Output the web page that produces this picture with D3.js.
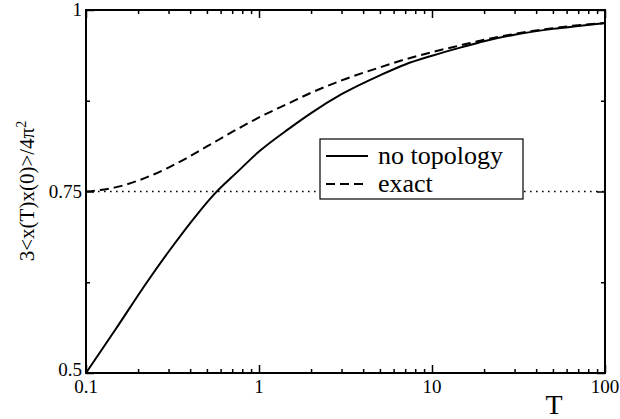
<!DOCTYPE html>
<html><head><meta charset="utf-8">
<script src="https://cdn.jsdelivr.net/npm/d3@7"></script>
<style>body{margin:0;background:#fff}svg{display:block}text{font-family:"Liberation Serif","Times New Roman",serif;fill:#000}</style>
</head><body>
<svg id="c" width="620" height="419"></svg>
<script>
const noTopoT = [0.1,0.15,0.225,0.3,0.444,0.55,0.75,1,1.5,2,3,5,7,10,15,20,30,50,70,100];
const noTopoV = [0.5,0.562,0.625,0.667,0.72,0.746,0.777,0.805,0.837,0.858,0.884,0.91,0.925,0.937,0.949,0.957,0.966,0.974,0.978,0.982];
const exactT = [0.1,0.12,0.15,0.2,0.3,0.5,0.7,1,1.5,2,3,5,7,10,15,20,30,50,70,100];
const exactV = [0.75,0.752,0.756,0.765,0.783,0.812,0.832,0.852,0.872,0.886,0.903,0.921,0.932,0.942,0.952,0.959,0.967,0.975,0.979,0.982];
const refLine = 0.75;
const xMajor = [0.1,1,10,100];
const xLabels = ["0.1","1","10","100"];
const yMajor = [0.5,0.75,1];
const yLabels = ["0.5","0.75","1"];
const yMinor = [0.625,0.875];
const legendNames = ["no topology","exact"];

const FONT = '"Liberation Serif","Times New Roman",serif';
const svg = d3.select("#c");
const L=86,T=10,R=605,B=373;
const x = d3.scaleLog().domain([0.1,100]).range([L,R]);
const y = d3.scaleLinear().domain([0.5,1]).range([B,T]);

const xMinor=[];
[0.1,1,10].forEach(d=>{for(let k=2;k<=9;k++)xMinor.push(d*k);});

// reference dotted line
svg.append("line").attr("x1",x(0.1)).attr("x2",x(100)).attr("y1",y(refLine)).attr("y2",y(refLine))
  .attr("stroke","#000").attr("stroke-width",1.6).attr("stroke-dasharray","1.6,4.4");

const line = d3.line().x(d=>x(d[0])).y(d=>y(d[1])).curve(d3.curveMonotoneX);
svg.append("path").datum(noTopoT.map((t,i)=>[t,noTopoV[i]])).attr("d",line)
  .attr("fill","none").attr("stroke","#000").attr("stroke-width",2);
svg.append("path").datum(exactT.map((t,i)=>[t,exactV[i]])).attr("d",line)
  .attr("fill","none").attr("stroke","#000").attr("stroke-width",2).attr("stroke-dasharray","9,5");

// axes with inward ticks
function ax(gen, tr){ const g=svg.append("g").attr("transform",tr).call(gen); g.select(".domain").remove(); g.selectAll("line").attr("stroke","#000").attr("stroke-width",1.5); g.selectAll("text").remove(); return g;}
ax(d3.axisBottom(x).tickValues(xMajor).tickSize(-8),`translate(0,${B})`);
ax(d3.axisBottom(x).tickValues(xMinor).tickSize(-4),`translate(0,${B})`);
ax(d3.axisTop(x).tickValues(xMajor).tickSize(-8),`translate(0,${T})`);
ax(d3.axisTop(x).tickValues(xMinor).tickSize(-4),`translate(0,${T})`);
ax(d3.axisLeft(y).tickValues(yMajor).tickSize(-8),`translate(${L},0)`);
ax(d3.axisLeft(y).tickValues(yMinor).tickSize(-4),`translate(${L},0)`);
ax(d3.axisRight(y).tickValues(yMajor).tickSize(-8),`translate(${R},0)`);
ax(d3.axisRight(y).tickValues(yMinor).tickSize(-4),`translate(${R},0)`);

svg.append("rect").attr("x",L).attr("y",T).attr("width",R-L).attr("height",B-T)
  .attr("fill","none").attr("stroke","#000").attr("stroke-width",2);

// tick labels
svg.selectAll(".xl").data(xMajor).enter().append("text").attr("font-family",FONT).attr("x",d=>x(d)).attr("y",B+20)
  .attr("text-anchor","middle").attr("font-size",19).text((d,i)=>xLabels[i]);
svg.selectAll(".yl").data(yMajor).enter().append("text").attr("font-family",FONT).attr("x",L-4).attr("y",d=>y(d)+(d===0.5?3:6))
  .attr("text-anchor","end").attr("font-size",19).text((d,i)=>yLabels[i]);

// axis titles
svg.append("text").attr("font-family",FONT).attr("x",554).attr("y",414).attr("text-anchor","middle").attr("font-size",28).text("T");
const yt = svg.append("text").attr("font-family",FONT).attr("transform","translate(34,191) rotate(-90)").attr("text-anchor","middle").attr("font-size",21);
yt.append("tspan").text("3<x(T)x(0)>/4π");
yt.append("tspan").attr("dy",-8).attr("font-size",14).text("2");

// legend
const lg = svg.append("g");
lg.append("rect").attr("x",320).attr("y",139).attr("width",203).attr("height",60)
  .attr("fill","#fff").attr("stroke","#000").attr("stroke-width",1.2);
const rows=[156,184];
legendNames.forEach((n,i)=>{
  lg.append("line").attr("x1",326).attr("x2",368).attr("y1",rows[i]).attr("y2",rows[i])
    .attr("stroke","#000").attr("stroke-width",2).attr("stroke-dasharray",i?"9,5":null);
  lg.append("text").attr("font-family",FONT).attr("x",378).attr("y",rows[i]+8).attr("font-size",26).text(n);
});
</script>
</body></html>
